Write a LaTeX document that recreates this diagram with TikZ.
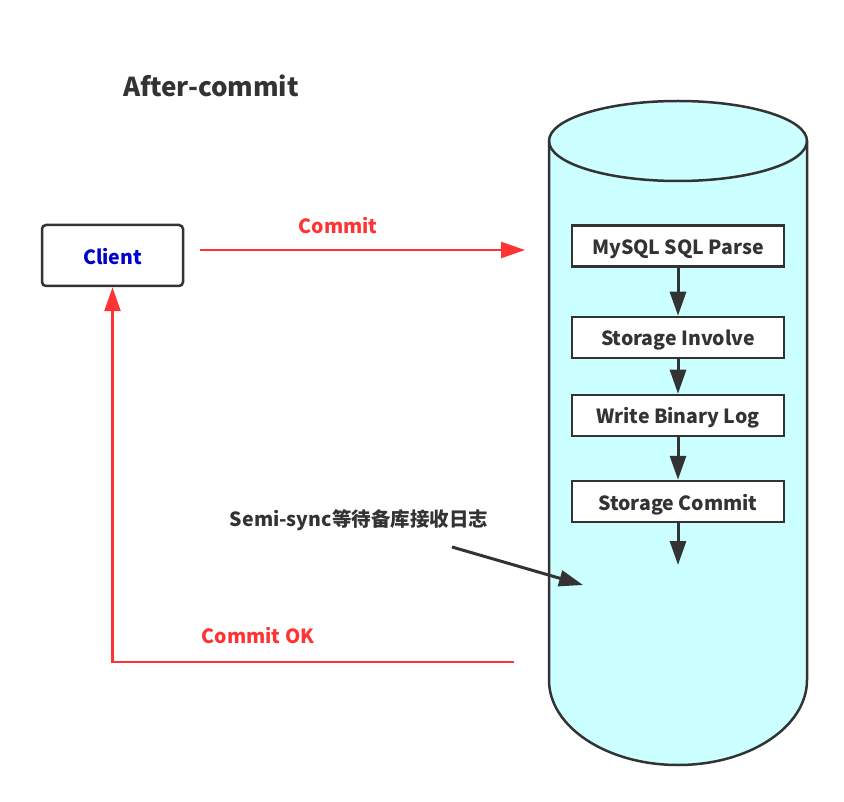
\documentclass[tikz,border=0pt]{standalone}
\usepackage{fontspec}
\setmainfont{Noto Sans CJK SC}
\usepackage{tikz}
\usetikzlibrary{arrows.meta,positioning}
\definecolor{okred}{HTML}{FF3333}
\definecolor{clientblue}{HTML}{0000CC}
\definecolor{inkgray}{HTML}{333333}
\definecolor{dbcyan}{HTML}{CCFFFF}
\tikzset{
  client/.style={draw=inkgray, line width=2.5pt, fill=white,
                 minimum width=141pt, minimum height=61pt,
                 rounded corners=4pt, inner sep=0pt,
                 text height=19pt, text depth=0pt,
                 font=\fontsize{19.5}{22}\selectfont\bfseries, text=clientblue},
  stage/.style={draw=inkgray, line width=2.5pt, fill=white,
                minimum width=212pt, minimum height=41pt,
                inner sep=0pt, align=center,
                text height=17pt, text depth=0pt,
                font=\fontsize{19.5}{22}\selectfont\bfseries, text=inkgray},
  redlab/.style={font=\fontsize{19.5}{22}\selectfont\bfseries, text=okred},
  darklab/.style={font=\fontsize{19.5}{22}\selectfont\bfseries, text=inkgray},
  redflow/.style={-{Triangle[length=24pt,width=16pt]}, okred, line width=2.5pt},
  darkflow/.style={-{Triangle[length=24pt,width=16pt]}, inkgray, line width=3pt},
}
\begin{document}
\begin{tikzpicture}[x=1pt,y=-1pt]
  \path[use as bounding box] (0,0) rectangle (844,802);

  \node[font=\fontsize{26}{28}\selectfont\bfseries, text=inkgray] (title) at (211,86)
    {After-commit};

  % Database cylinder.
  \draw[inkgray, line width=2.5pt, fill=dbcyan]
    (549,141) -- (549,680) arc[start angle=180, end angle=360, x radius=129, y radius=-85]
    -- (807,141) arc[start angle=0, end angle=180, x radius=129, y radius=-40] -- cycle;
  \draw[inkgray, line width=2.5pt]
    (549,141) arc[start angle=180, end angle=360, x radius=129, y radius=-40];

  \node[client] (Client) at (112.5,255.5) {Client};

  \node[stage] (Parse) at (678,246) {MySQL SQL Parse};
  \node[stage] (Involve) at (678,337.5) {Storage Involve};
  \node[stage] (Binlog) at (678,415.5) {Write Binary Log};
  \node[stage] (Commit) at (678,501.5) {Storage Commit};

  \draw[darkflow] (Parse) -- (Involve);
  \draw[darkflow] (Involve) -- (Binlog);
  \draw[darkflow] (Binlog) -- (Commit);
  \coordinate (waitpt) at (678,565);
  \draw[darkflow] (Commit) -- (waitpt);

  % Requests between client and server.
  \coordinate (commitfrom) at (200,250);
  \coordinate (committo) at (525,250);
  \draw[redflow] (commitfrom) -- (committo);
  \node[redlab] (commitlab) at (338,226) {Commit};

  \coordinate (okfrom) at (514,662);
  \draw[redflow] (okfrom) -| (Client.south);
  \node[redlab] (oklab) at (258,636) {Commit OK};

  % Semi-sync note.
  \node[darklab] (synclab) at (359,520) {Semi-sync等待备库接收日志};
  \coordinate (syncfrom) at (452,547);
  \coordinate (syncto) at (583,585);
  \draw[darkflow] (syncfrom) -- (syncto);
\end{tikzpicture}
\end{document}
